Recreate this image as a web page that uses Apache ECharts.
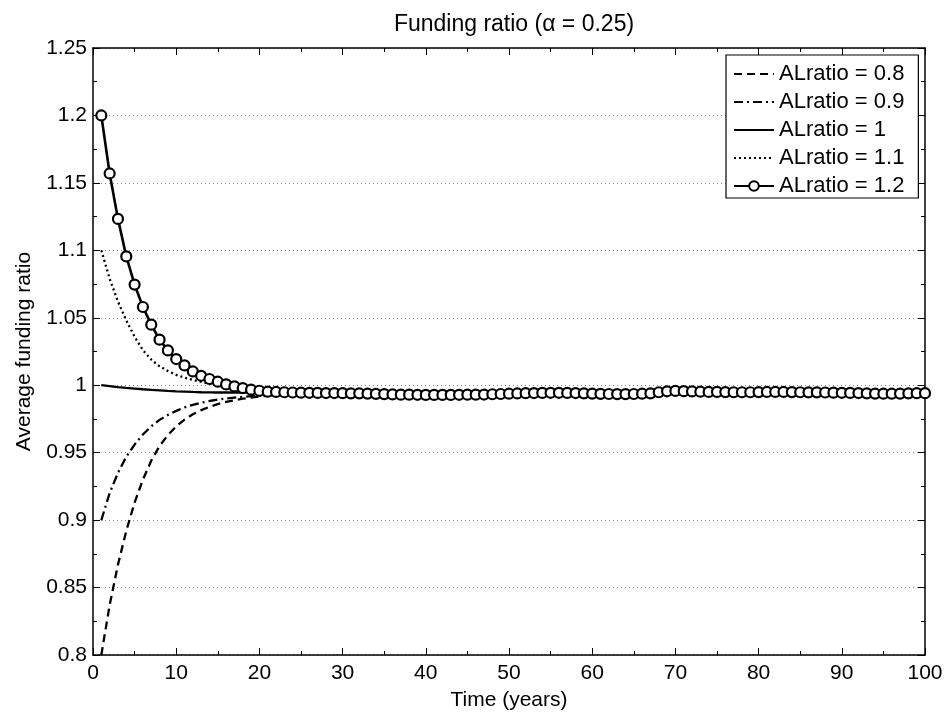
<!DOCTYPE html>
<html>
<head>
<meta charset="utf-8">
<script src="https://cdn.jsdelivr.net/npm/echarts@6/dist/echarts.min.js"></script>
<style>html,body{margin:0;padding:0;background:#fff}#c{width:952px;height:725px}</style>
</head>
<body>
<div id="c"></div>
<script>
const years = [1,2,3,4,5,6,7,8,9,10,11,12,13,14,15,16,17,18,19,20,21,22,23,24,25,26,27,28,29,30,31,32,33,34,35,36,37,38,39,40,41,42,43,44,45,46,47,48,49,50,51,52,53,54,55,56,57,58,59,60,61,62,63,64,65,66,67,68,69,70,71,72,73,74,75,76,77,78,79,80,81,82,83,84,85,86,87,88,89,90,91,92,93,94,95,96,97,98,99,100];

const seriesNames = ['ALratio = 0.8','ALratio = 0.9','ALratio = 1','ALratio = 1.1','ALratio = 1.2'];

const ratio08 = [0.8,0.837,0.867,0.892,0.913,0.93,0.944,0.955,0.963,0.9695,0.9745,0.9785,0.9815,0.984,0.986,0.9876,0.9889,0.99,0.9909,0.9916,0.9922,0.9927,0.9931,0.9934,0.9937,0.9939,0.994,0.9941,0.9942,0.9941,
0.994,0.994,0.9938,0.9936,0.9934,0.9932,0.993,0.993,0.9929,0.9928,
0.9928,0.9928,0.9928,0.9929,0.993,0.993,0.9931,0.9933,0.9935,0.9937,
0.9939,0.9941,0.9942,0.9943,0.9944,0.9944,0.9943,0.9942,0.994,0.9938,
0.9936,0.9935,0.9934,0.9934,0.9935,0.9937,0.994,0.9948,0.9955,0.9958,
0.9956,0.9954,0.9952,0.995,0.995,0.9949,0.9948,0.9948,0.9948,0.9949,
0.995,0.995,0.995,0.9949,0.9948,0.9947,0.9947,0.9946,0.9945,0.9944,
0.9943,0.9942,0.994,0.9938,0.9937,0.9937,0.9938,0.994,0.9941,0.9941];

const ratio09 = [0.9,0.92,0.935,0.947,0.956,0.9635,0.9695,0.9743,0.978,0.981,0.9835,0.9855,0.987,0.9883,0.9893,0.9901,0.9908,0.9914,0.9919,0.9923,0.9927,0.993,0.9933,0.9936,0.9938,0.994,0.9941,0.9942,0.9942,0.9941,
0.994,0.994,0.9938,0.9936,0.9934,0.9932,0.993,0.993,0.9929,0.9928,
0.9928,0.9928,0.9928,0.9929,0.993,0.993,0.9931,0.9933,0.9935,0.9937,
0.9939,0.9941,0.9942,0.9943,0.9944,0.9944,0.9943,0.9942,0.994,0.9938,
0.9936,0.9935,0.9934,0.9934,0.9935,0.9937,0.994,0.9948,0.9955,0.9958,
0.9956,0.9954,0.9952,0.995,0.995,0.9949,0.9948,0.9948,0.9948,0.9949,
0.995,0.995,0.995,0.9949,0.9948,0.9947,0.9947,0.9946,0.9945,0.9944,
0.9943,0.9942,0.994,0.9938,0.9937,0.9937,0.9938,0.994,0.9941,0.9941];

const ratio10 = [1.0,0.9993,0.9986,0.998,0.9975,0.997,0.9966,0.9962,0.9958,0.9955,0.9953,0.995,0.9948,0.9947,0.9946,0.9946,0.9946,0.9946,0.9946,0.9946,0.9946,0.9946,0.9946,0.9946,0.9945,0.9944,0.9943,0.9942,0.9942,0.9941,
0.994,0.994,0.9938,0.9936,0.9934,0.9932,0.993,0.993,0.9929,0.9928,
0.9928,0.9928,0.9928,0.9929,0.993,0.993,0.9931,0.9933,0.9935,0.9937,
0.9939,0.9941,0.9942,0.9943,0.9944,0.9944,0.9943,0.9942,0.994,0.9938,
0.9936,0.9935,0.9934,0.9934,0.9935,0.9937,0.994,0.9948,0.9955,0.9958,
0.9956,0.9954,0.9952,0.995,0.995,0.9949,0.9948,0.9948,0.9948,0.9949,
0.995,0.995,0.995,0.9949,0.9948,0.9947,0.9947,0.9946,0.9945,0.9944,
0.9943,0.9942,0.994,0.9938,0.9937,0.9937,0.9938,0.994,0.9941,0.9941];

const ratio11 = [1.1,1.079,1.062,1.048,1.036,1.026,1.019,1.014,1.0105,1.0077,1.0056,1.004,1.0025,1.0012,1.0002,0.9993,0.9984,0.9975,0.9966,0.9958,0.9952,0.995,0.9948,0.9946,0.9945,0.9944,0.9943,0.9942,0.9942,0.9941,
0.994,0.994,0.9938,0.9936,0.9934,0.9932,0.993,0.993,0.9929,0.9928,
0.9928,0.9928,0.9928,0.9929,0.993,0.993,0.9931,0.9933,0.9935,0.9937,
0.9939,0.9941,0.9942,0.9943,0.9944,0.9944,0.9943,0.9942,0.994,0.9938,
0.9936,0.9935,0.9934,0.9934,0.9935,0.9937,0.994,0.9948,0.9955,0.9958,
0.9956,0.9954,0.9952,0.995,0.995,0.9949,0.9948,0.9948,0.9948,0.9949,
0.995,0.995,0.995,0.9949,0.9948,0.9947,0.9947,0.9946,0.9945,0.9944,
0.9943,0.9942,0.994,0.9938,0.9937,0.9937,0.9938,0.994,0.9941,0.9941];

const ratio12 = [1.2,1.157,1.1233,1.0955,1.0746,1.058,1.0449,1.0338,1.0258,1.0194,1.0147,1.0102,1.007,1.0046,1.0026,1.0006,0.9991,0.9979,0.9967,0.9959,0.9952,0.995,0.9948,0.9946,0.9945,0.9944,0.9943,0.9942,0.9942,0.9941,
0.994,0.994,0.9938,0.9936,0.9934,0.9932,0.993,0.993,0.9929,0.9928,
0.9928,0.9928,0.9928,0.9929,0.993,0.993,0.9931,0.9933,0.9935,0.9937,
0.9939,0.9941,0.9942,0.9943,0.9944,0.9944,0.9943,0.9942,0.994,0.9938,
0.9936,0.9935,0.9934,0.9934,0.9935,0.9937,0.994,0.9948,0.9955,0.9958,
0.9956,0.9954,0.9952,0.995,0.995,0.9949,0.9948,0.9948,0.9948,0.9949,
0.995,0.995,0.995,0.9949,0.9948,0.9947,0.9947,0.9946,0.9945,0.9944,
0.9943,0.9942,0.994,0.9938,0.9937,0.9937,0.9938,0.994,0.9941,0.9941];

const xTicks = {min: 0, max: 100, interval: 10};
const yTicks = {min: 0.8, max: 1.25, interval: 0.05};

const FONT = '"Liberation Sans", Arial, Helvetica, sans-serif';
const pairs = arr => years.map((t, i) => [t, arr[i]]);

const chart = echarts.init(document.getElementById('c'), null, {renderer: 'canvas'});

const axisCommon = {
  axisLine: {show: true, onZero: false, lineStyle: {color: '#000', width: 1.5}},
  axisTick: {show: true, inside: true, length: 7, lineStyle: {color: '#000', width: 1}},
  minorTick: {show: true, splitNumber: 2, length: 4, lineStyle: {color: '#000', width: 1}},
};

const lineSeries = (name, arr, dash, extra) => Object.assign({
  name: name, type: 'line', data: pairs(arr), symbol: 'none', showSymbol: false,
  lineStyle: {color: '#000', width: 2.3, type: dash},
  itemStyle: {color: '#000'},
  silent: true, animation: false, z: 3
}, extra || {});

chart.setOption({
  animation: false,
  backgroundColor: '#fff',
  title: {
    text: 'Funding ratio (\u03b1 = 0.25)',
    left: 509, top: 8, textAlign: 'center',
    textStyle: {fontFamily: FONT, fontSize: 23, fontWeight: 'normal', color: '#000'}
  },
  grid: {left: 93, right: 27, top: 48, bottom: 70, containLabel: false},
  legend: {
    data: seriesNames.map((n, i) => i < 4
      ? {name: n, itemStyle: {opacity: 0}}
      : {name: n}),
    orient: 'vertical',
    left: 726, top: 55,
    backgroundColor: '#fff',
    borderColor: '#000', borderWidth: 1.2, borderRadius: 0,
    padding: [8, 14, 1, 7],
    itemWidth: 40, itemHeight: 12, itemGap: 6,
    textStyle: {fontFamily: FONT, fontSize: 22, color: '#000', lineHeight: 22},
    selectedMode: false
  },
  xAxis: [
    Object.assign({}, axisCommon, {
      type: 'value', min: xTicks.min, max: xTicks.max, interval: xTicks.interval,
      position: 'bottom',
      name: 'Time (years)', nameLocation: 'middle', nameGap: 35,
      nameTextStyle: {fontFamily: FONT, fontSize: 21, color: '#000'},
      axisLabel: {show: true, margin: 8, fontFamily: FONT, fontSize: 21, color: '#000'},
      splitLine: {show: false}
    }),
    Object.assign({}, axisCommon, {
      type: 'value', min: xTicks.min, max: xTicks.max, interval: xTicks.interval,
      position: 'top',
      axisLabel: {show: false},
      splitLine: {show: false}
    })
  ],
  yAxis: [
    Object.assign({}, axisCommon, {
      type: 'value', min: yTicks.min, max: yTicks.max, interval: yTicks.interval,
      position: 'left',
      name: 'Average funding ratio', nameLocation: 'middle', nameGap: 58,
      nameTextStyle: {fontFamily: FONT, fontSize: 21, color: '#000'},
      axisLabel: {show: true, margin: 6, fontFamily: FONT, fontSize: 21, color: '#000',
        formatter: v => String(parseFloat(v.toFixed(2)))},
      splitLine: {show: true, lineStyle: {color: '#8c8c8c', width: 1, type: [1, 3]}}
    }),
    Object.assign({}, axisCommon, {
      type: 'value', min: yTicks.min, max: yTicks.max, interval: yTicks.interval,
      position: 'right',
      axisLabel: {show: false},
      splitLine: {show: false}
    })
  ],
  series: [
    lineSeries(seriesNames[0], ratio08, [8, 5]),
    lineSeries(seriesNames[1], ratio09, [9, 4, 2, 4]),
    lineSeries(seriesNames[2], ratio10, 'solid'),
    lineSeries(seriesNames[3], ratio11, [2, 3]),
    lineSeries(seriesNames[4], ratio12, 'solid', {
      symbol: 'circle', showSymbol: true, symbolSize: 10,
      lineStyle: {color: '#000', width: 2.6, type: 'solid'},
      itemStyle: {color: '#fff', borderColor: '#000', borderWidth: 2.2},
      z: 5
    })
  ]
});
</script>
</body>
</html>
